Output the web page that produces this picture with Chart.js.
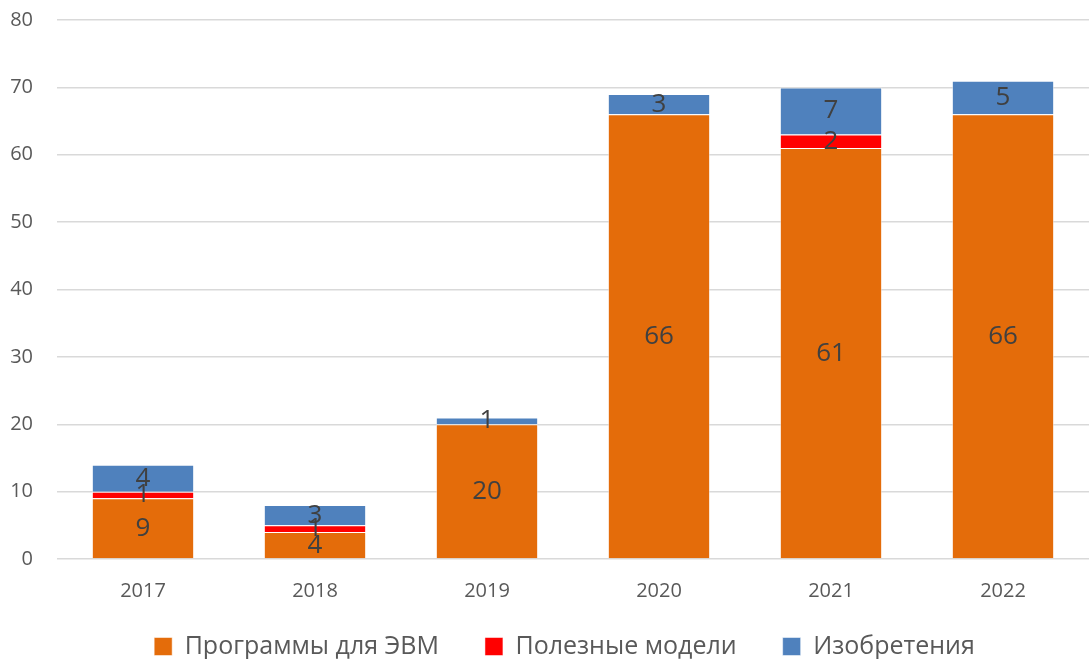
<!DOCTYPE html>
<html>
<head>
<meta charset="utf-8">
<script src="https://cdn.jsdelivr.net/npm/chart.js@4/dist/chart.umd.min.js"></script>
<style>
  html, body { margin: 0; padding: 0; background: #fff; }
  #wrap { width: 1089px; height: 659px; }
</style>
</head>
<body>
<div id="wrap"><canvas id="chart"></canvas></div>
<script>
const years = ['2017', '2018', '2019', '2020', '2021', '2022'];
const programs = [9, 4, 20, 66, 61, 66];
const utilityModels = [1, 1, 0, 0, 2, 0];
const inventions = [4, 3, 1, 3, 7, 5];
const yTicks = [0, 10, 20, 30, 40, 50, 60, 70, 80];

const FONT = '"Open Sans", "DejaVu Sans", sans-serif';

// labels in the middle of each segment, skip zeros
const segmentLabels = {
    id: 'segmentLabels',
    afterDatasetsDraw(chart) {
        const ctx = chart.ctx;
        ctx.save();
        ctx.font = '26px ' + FONT;
        ctx.fillStyle = '#404040';
        ctx.textAlign = 'center';
        ctx.textBaseline = 'middle';
        chart.data.datasets.forEach((ds, i) => {
            const meta = chart.getDatasetMeta(i);
            meta.data.forEach((bar, j) => {
                const v = ds.data[j];
                if (!v) return;
                ctx.fillText(String(v), bar.x, (bar.y + bar.base) / 2);
            });
        });
        ctx.restore();
    }
};

// wide horizontal gaps between legend items, but keep the legend short;
// also nudge it right/up to where the reference has it
const legendTweak = {
    id: 'legendTweak',
    beforeLayout(chart) {
        const lg = chart.legend;
        if (!lg || lg._patched) return;
        const fit = lg.fit;
        lg.fit = function () {
            fit.call(this);
            this.height = 50;
        };
        lg._patched = true;
    },
    afterLayout(chart) {
        const lg = chart.legend;
        lg.left += 20;
        lg.right += 20;
        lg.top -= 21;
    }
};

const ctx = document.getElementById('chart').getContext('2d');
new Chart(ctx, {
    type: 'bar',
    data: {
        labels: years,
        datasets: [
            { label: 'Программы для ЭВМ', data: programs, backgroundColor: '#E46C0A', borderColor: 'rgba(255,255,255,0.5)', borderWidth: 1 },
            { label: 'Полезные модели', data: utilityModels, backgroundColor: '#FF0000', borderColor: 'rgba(255,255,255,0.5)', borderWidth: 1 },
            { label: 'Изобретения', data: inventions, backgroundColor: '#4F81BD', borderColor: 'rgba(255,255,255,0.5)', borderWidth: 1 }
        ]
    },
    options: {
        responsive: true,
        maintainAspectRatio: false,
        animation: false,
        layout: { padding: { top: 20, right: 0, left: 0, bottom: 0 } },
        datasets: { bar: { categoryPercentage: 1, barPercentage: 0.595 } },
        plugins: {
            tooltip: { enabled: false },
            legend: {
                position: 'bottom',
                labels: {
                    boxWidth: 18,
                    boxHeight: 18,
                    padding: 46,
                    color: '#595959',
                    font: { size: 25, family: FONT }
                }
            }
        },
        scales: {
            x: {
                stacked: true,
                grid: { display: false },
                border: { display: false },
                afterFit(scale) { scale.height = 50; scale.paddingLeft = 0; scale.paddingRight = 0; },
                ticks: { color: '#595959', padding: 12, font: { size: 20, family: FONT } }
            },
            y: {
                stacked: true,
                min: 0,
                max: 80,
                afterFit(scale) { scale.width = 57; scale.paddingTop = 0; scale.paddingBottom = 0; },
                afterBuildTicks(scale) { scale.ticks = yTicks.map(v => ({ value: v })); },
                grid: { color: '#D9D9D9', lineWidth: 1.5, drawTicks: false },
                border: { display: false },
                ticks: { color: '#595959', padding: 24, font: { size: 20, family: FONT } }
            }
        }
    },
    plugins: [segmentLabels, legendTweak]
});
</script>
</body>
</html>
